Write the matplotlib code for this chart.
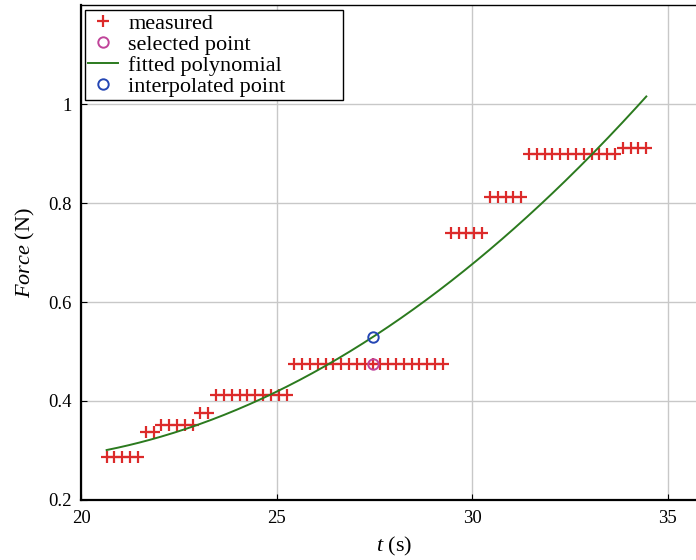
import numpy as np
import matplotlib
matplotlib.use("Agg")
import matplotlib.pyplot as plt

plt.rcParams.update({"font.family": "Liberation Serif", "font.size": 13.5,
                     "mathtext.fontset": "custom",
                     "mathtext.rm": "Liberation Serif",
                     "mathtext.it": "Liberation Serif:italic",
                     "xtick.direction": "in", "ytick.direction": "in"})

RED, MAGENTA, GREEN, BLUE = "#dc2a2a", "#c0449a", "#2b7a1e", "#2446b4"

# sensor samples (every 0.2 s), force held in steps
t_meas = [20.65, 20.85, 21.05, 21.25, 21.45,
          21.65, 21.85,
          22.05, 22.25, 22.45, 22.65, 22.85,
          23.05, 23.25,
          23.45, 23.65, 23.85, 24.05, 24.25, 24.45, 24.65, 24.85, 25.05, 25.25,
          25.45, 25.65, 25.85, 26.05, 26.25, 26.45, 26.65, 26.85, 27.05, 27.25,
          27.45, 27.65, 27.85, 28.05, 28.25, 28.45, 28.65, 28.85, 29.05, 29.25,
          29.45, 29.65, 29.85, 30.05, 30.25,
          30.45, 30.65, 30.85, 31.05, 31.25,
          31.45, 31.65, 31.85, 32.05, 32.25, 32.45, 32.65, 32.85, 33.05, 33.25,
          33.45, 33.65,
          33.85, 34.05, 34.25, 34.45]
f_meas = ([0.287] * 5 + [0.338] * 2 + [0.351] * 5 + [0.375] * 2
          + [0.412] * 10 + [0.475] * 20 + [0.739] * 5 + [0.812] * 5
          + [0.900] * 12 + [0.911] * 4)

t_sel, f_sel = 27.45, 0.475

# quadratic fit, coefficients about t_centre (highest power first)
t_centre = 27.45
fit_coeffs = [0.002608, 0.05131, 0.529]

t = np.array(t_meas)
tt = np.linspace(t[0], t[-1], 300)
f_fit = np.polyval(fit_coeffs, tt - t_centre)
f_interp = np.polyval(fit_coeffs, t_sel - t_centre)

fig = plt.figure(figsize=(6.96, 5.6), dpi=100)
ax = fig.add_axes([0.1167, 0.1075, 0.899, 0.8827])

ax.plot(t_meas, f_meas, "+", color=RED, ms=9, mew=1.6, label="measured")
ax.plot([t_sel], [f_sel], "o", mfc="none", mec=MAGENTA, ms=7.5, mew=1.4,
        label="selected point")
ax.plot(tt, f_fit, "-", color=GREEN, lw=1.4, label="fitted polynomial")
ax.plot([t_sel], [f_interp], "o", mfc="none", mec=BLUE, ms=7.5, mew=1.4,
        label="interpolated point")

ax.set_xlim(20, 36)
ax.set_ylim(0.2, 1.2)
ax.set_xticks([20, 25, 30, 35])
ax.set_yticks([0.2, 0.4, 0.6, 0.8, 1.0])
ax.set_yticklabels(["0.2", "0.4", "0.6", "0.8", "1"])
ax.tick_params(length=4, width=0.8, pad=7)
ax.grid(color="#c8c8c8", lw=1)
ax.set_axisbelow(True)
for s in ("left", "bottom"):
    ax.spines[s].set_linewidth(1.6)
ax.spines["top"].set_linewidth(1.0)

ax.set_xlabel("$t$ (s)", fontsize=16, labelpad=6)
ax.set_ylabel("$Force$ (N)", fontsize=16, labelpad=8)

# wide legend box with the entries pushed to its left side
leg = ax.legend(loc="upper left", bbox_to_anchor=(0.006, 0.991, 0.412, 0),
                mode="expand", fontsize=16, frameon=True, fancybox=False,
                edgecolor="black", framealpha=1, borderaxespad=0,
                labelspacing=0.02, handlelength=1.35, handletextpad=0.45,
                borderpad=0.15, numpoints=1)
leg.get_frame().set_linewidth(1.0)

fig.savefig("out.png", dpi=100, facecolor="white")
